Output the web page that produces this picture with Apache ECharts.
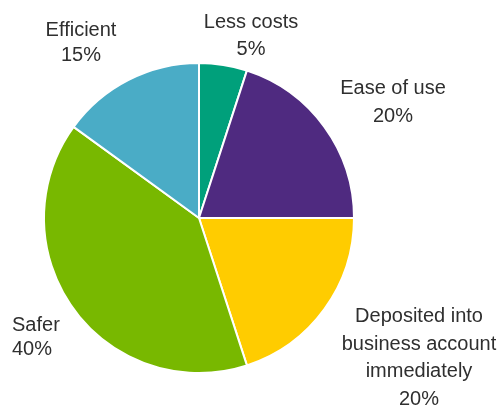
<!DOCTYPE html>
<html>
<head>
<meta charset="utf-8">
<script src="https://cdn.jsdelivr.net/npm/echarts@6/dist/echarts.min.js"></script>
<style>
  html, body { margin: 0; padding: 0; background: #ffffff; }
  #chart { width: 497px; height: 411px; }
</style>
</head>
<body>
<div id="chart"></div>
<script>
// Reasons given, as share of respondents (%)
const categories = ['Less costs', 'Ease of use', 'Deposited into\nbusiness account\nimmediately', 'Safer', 'Efficient'];
const shares = [5, 20, 20, 40, 15];
const colors = ['#00A07B', '#4F2A80', '#FFCC00', '#78B800', '#4AACC6'];

// Label anchor points (px) and alignment per slice
const labelPlaces = [
  { x: 251, y: 36, align: 'center', lh: 27 },
  { x: 393, y: 102, align: 'center', lh: 28 },
  { x: 419, y: 358, align: 'center', lh: 27.5 },
  { x: 12, y: 337, align: 'left', lh: 24 },
  { x: 81, y: 43, align: 'center', lh: 25 }
];

const chart = echarts.init(document.getElementById('chart'), null, { renderer: 'canvas' });

chart.setOption({
  animation: false,
  series: [{
    type: 'pie',
    center: [199, 218],
    radius: [0, 155],
    startAngle: 90,
    clockwise: true,
    data: categories.map((name, i) => ({
      name,
      value: shares[i],
      label: { lineHeight: labelPlaces[i].lh }
    })),
    color: colors,
    itemStyle: { borderColor: '#ffffff', borderWidth: 2 },
    label: {
      show: true,
      formatter: p => p.name + '\n' + p.value + '%',
      fontFamily: '"Liberation Sans", Arial, sans-serif',
      fontSize: 20,
      color: '#2f2f2f',
      overflow: 'none',
      width: 300
    },
    labelLine: { show: false },
    labelLayout: p => ({
      x: labelPlaces[p.dataIndex].x,
      y: labelPlaces[p.dataIndex].y,
      align: labelPlaces[p.dataIndex].align,
      verticalAlign: 'middle'
    })
  }]
});
</script>
</body>
</html>
